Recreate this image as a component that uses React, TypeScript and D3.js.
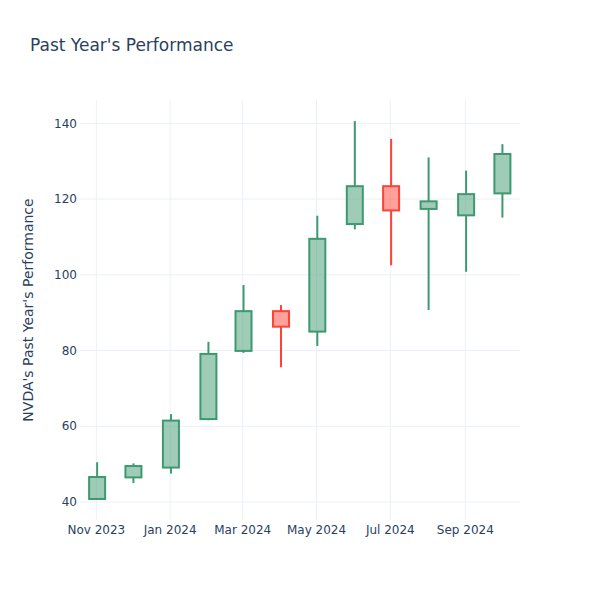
import React from "react";
import * as d3 from "d3";

const months = ["2023-11-01","2023-12-01","2024-01-01","2024-02-01","2024-03-01","2024-04-01","2024-05-01","2024-06-01","2024-07-01","2024-08-01","2024-09-01","2024-10-01"];
const opens = [40.8, 46.5, 49.1, 61.9, 79.9, 90.4, 85.0, 113.4, 123.4, 117.4, 115.7, 121.5];
const highs = [50.5, 50.2, 63.2, 82.3, 97.3, 92.0, 115.6, 140.6, 135.9, 131.0, 127.5, 134.5];
const lows = [40.7, 45.0, 47.5, 61.6, 79.4, 75.6, 81.2, 112.0, 102.5, 90.7, 100.8, 115.1];
const closes = [46.6, 49.5, 61.5, 79.1, 90.4, 86.3, 109.5, 123.4, 117.0, 119.4, 121.3, 131.9];

const xTicks = ["2023-11-01","2024-01-01","2024-03-01","2024-05-01","2024-07-01","2024-09-01"];
const xTickLabels = ["Nov 2023","Jan 2024","Mar 2024","May 2024","Jul 2024","Sep 2024"];
const yTicks = [40, 60, 80, 100, 120, 140];

const title = "Past Year's Performance";
const yTitle = "NVDA's Past Year's Performance";

const parse = (s: string) => { const [y, m, d] = s.split("-").map(Number); return new Date(y, m - 1, d); };

export default function App() {
  const W = 600, H = 600;
  const L = 80, R = 520, T = 100, B = 520;
  const day = 86400000;
  const x = d3.scaleTime()
    .domain([new Date(parse(months[0]).getTime() - 13.5 * day), new Date(parse(months[months.length - 1]).getTime() + 15.2 * day)])
    .range([L, R]);
  const y = d3.scaleLinear().domain([35.25, 146.16]).range([B, T]);
  const font = "'DejaVu Sans', 'Open Sans', verdana, arial, sans-serif";
  const txt = "#2a3f5f";
  const grid = "#EBF0F8";
  const bw = 16;
  return (
    <svg width={W} height={H} style={{ display: "block", position: "absolute", left: 0, top: 0 }} fontFamily={font}>
      <rect width={W} height={H} fill="#fff" />
      {xTicks.map((t) => (
        <line key={"gx" + t} x1={x(parse(t))} x2={x(parse(t))} y1={T} y2={B} stroke={grid} strokeWidth={1} />
      ))}
      {yTicks.map((t) => (
        <line key={"gy" + t} x1={L} x2={R} y1={y(t)} y2={y(t)} stroke={grid} strokeWidth={1} />
      ))}
      {months.map((m, i) => {
        const up = closes[i] >= opens[i];
        const col = up ? "#3D9970" : "#FF4136";
        const fill = up ? "rgba(61,153,112,0.5)" : "rgba(255,65,54,0.5)";
        const cx = x(parse(m)) + 0.8;
        const top = y(Math.max(opens[i], closes[i]));
        const bot = y(Math.min(opens[i], closes[i]));
        return (
          <g key={m}>
            <line x1={cx} x2={cx} y1={y(highs[i])} y2={top} stroke={col} strokeWidth={2} />
            <line x1={cx} x2={cx} y1={bot} y2={y(lows[i])} stroke={col} strokeWidth={2} />
            <rect x={cx - bw / 2} y={top} width={bw} height={Math.max(bot - top, 0.5)} fill={fill} stroke={col} strokeWidth={2} />
          </g>
        );
      })}
      {yTicks.map((t) => (
        <text key={"ty" + t} x={77} y={y(t) + 4.2} textAnchor="end" fontSize={12} fill={txt}>{t}</text>
      ))}
      {xTicks.map((t, i) => (
        <text key={"tx" + t} x={x(parse(t))} y={534} textAnchor="middle" fontSize={12} fill={txt}>{xTickLabels[i]}</text>
      ))}
      <text x={30} y={50.5} fontSize={17} fill={txt}>{title}</text>
      <text transform={`translate(33,${(T + B) / 2}) rotate(-90)`} textAnchor="middle" fontSize={14} fill={txt}>{yTitle}</text>
    </svg>
  );
}
